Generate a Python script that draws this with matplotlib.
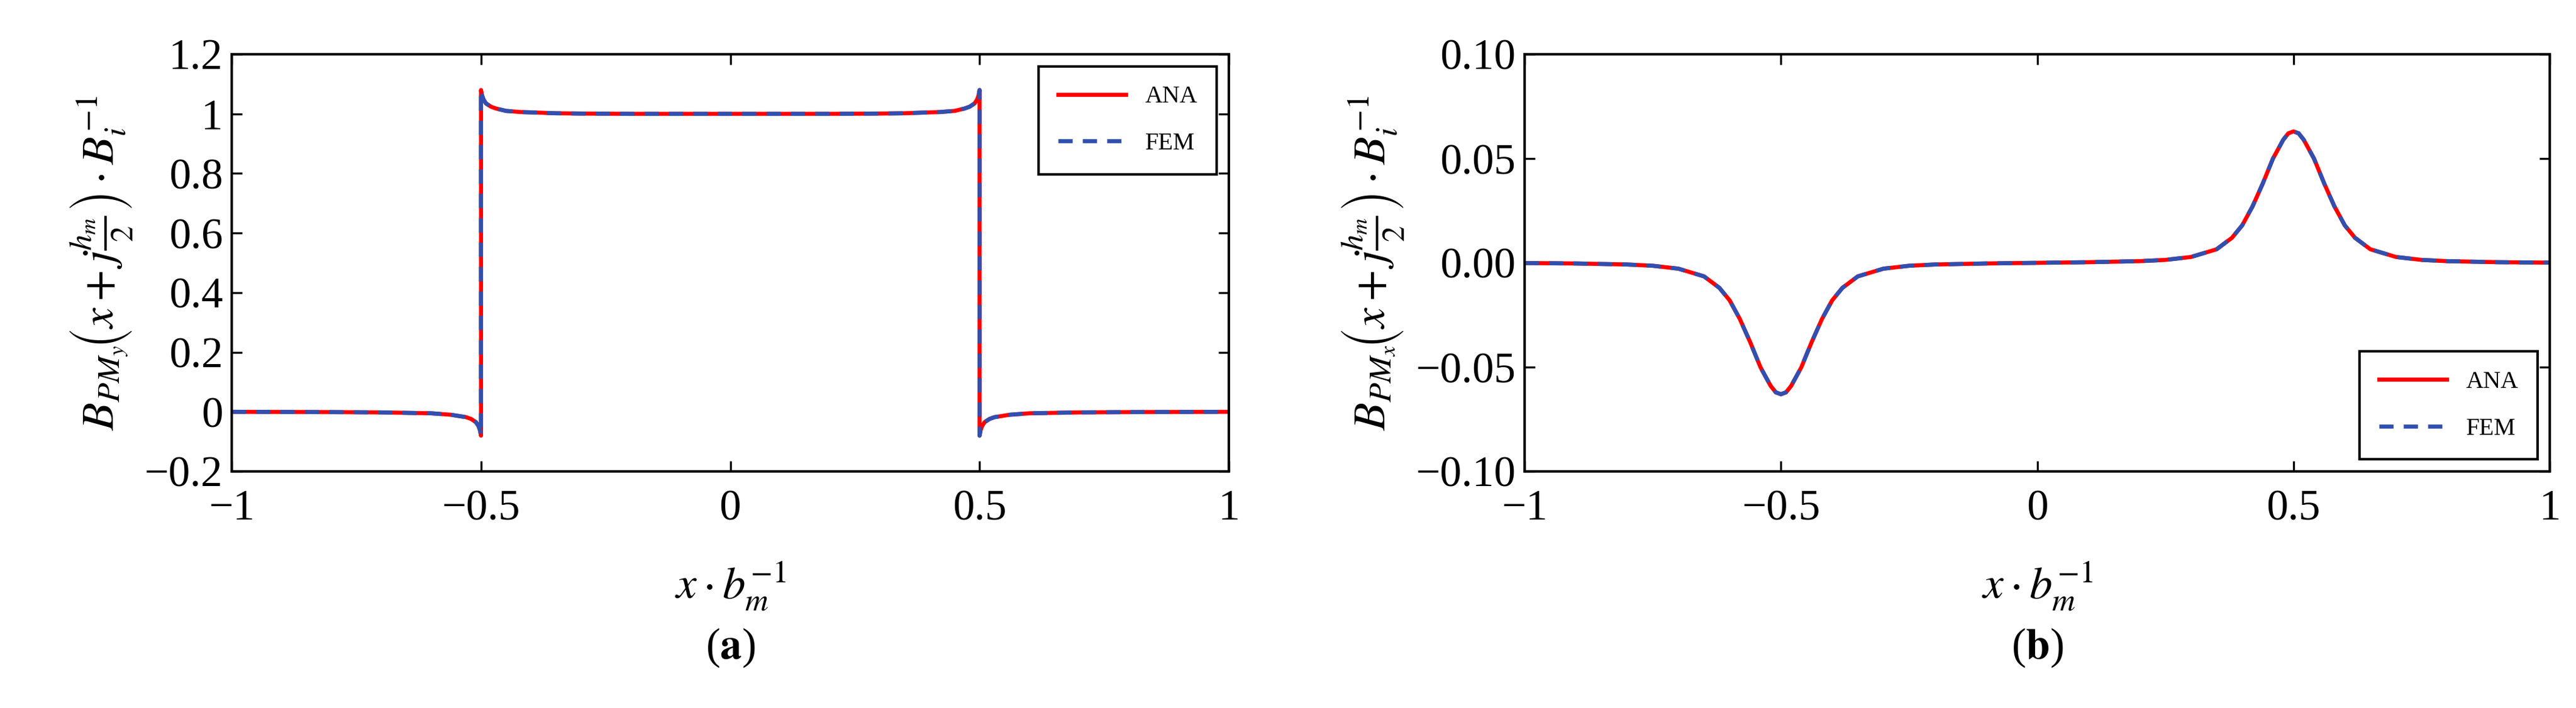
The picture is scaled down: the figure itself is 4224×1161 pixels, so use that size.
import matplotlib
matplotlib.use("Agg")
import matplotlib.pyplot as plt

plt.rcParams['font.family'] = ['Liberation Serif', 'DejaVu Serif']
plt.rcParams['mathtext.fontset'] = 'stix'

# Panel (a): B_PMy
xa = [-1.0, -0.8, -0.7, -0.6, -0.56, -0.53, -0.52, -0.51, -0.505, -0.502, -0.5,
      -0.5, -0.498, -0.495, -0.49, -0.48, -0.47, -0.45, -0.42, -0.4, -0.35, -0.3, -0.2, 0.0,
      0.2, 0.3, 0.35, 0.4, 0.42, 0.45, 0.47, 0.48, 0.49, 0.495, 0.498, 0.5,
      0.5, 0.502, 0.505, 0.51, 0.52, 0.53, 0.56, 0.6, 0.7, 0.8, 1.0]
ya = [0.0, -0.001, -0.002, -0.005, -0.01, -0.018, -0.024, -0.035, -0.048, -0.062, -0.08,
      1.08, 1.062, 1.048, 1.035, 1.024, 1.018, 1.01, 1.006, 1.005, 1.002, 1.001, 1.0, 1.0,
      1.0, 1.001, 1.002, 1.005, 1.006, 1.01, 1.018, 1.024, 1.035, 1.048, 1.062, 1.08,
      -0.08, -0.062, -0.048, -0.035, -0.024, -0.018, -0.01, -0.005, -0.002, -0.001, 0.0]

# Panel (b): B_PMx
xb = [-1.0, -0.9, -0.8, -0.75, -0.7, -0.65, -0.62, -0.6, -0.58, -0.56, -0.54, -0.52, -0.51, -0.5,
      -0.49, -0.48, -0.46, -0.44, -0.42, -0.4, -0.38, -0.35, -0.3, -0.25, -0.2, -0.1, 0.0,
      0.1, 0.2, 0.25, 0.3, 0.35, 0.38, 0.4, 0.42, 0.44, 0.46, 0.48, 0.49, 0.5,
      0.51, 0.52, 0.54, 0.56, 0.58, 0.6, 0.62, 0.65, 0.7, 0.75, 0.8, 0.9, 1.0]
yb = [-0.0001, -0.0003, -0.0008, -0.0014, -0.0028, -0.0065, -0.012, -0.018, -0.027, -0.038, -0.05, -0.059, -0.0621, -0.063,
      -0.0621, -0.059, -0.05, -0.038, -0.027, -0.018, -0.012, -0.0065, -0.0028, -0.0014, -0.0008, -0.0003, 0.0,
      0.0003, 0.0008, 0.0014, 0.0028, 0.0065, 0.012, 0.018, 0.027, 0.038, 0.05, 0.059, 0.0621, 0.063,
      0.0621, 0.059, 0.05, 0.038, 0.027, 0.018, 0.012, 0.0065, 0.0028, 0.0014, 0.0008, 0.0003, 0.0001]

fig = plt.figure(figsize=(14.08, 3.87), dpi=300)
axa = fig.add_axes([380/4224, 1-773/1161, 1635/4224, 684/1161])
axb = fig.add_axes([2500/4224, 1-773/1161, 1681/4224, 684/1161])

for ax, x, y in [(axa, xa, ya), (axb, xb, yb)]:
    ax.plot(x, y, color='#ff0000', lw=1.6, label='ANA')
    ax.plot(x, y, color='#3050b0', lw=1.6, ls=(0, (3.5, 2.5)), label='FEM')
    ax.set_xlim(-1, 1)
    ax.set_xticks([-1, -0.5, 0, 0.5, 1])
    ax.set_xticklabels(['−1', '−0.5', '0', '0.5', '1'])
    ax.tick_params(direction='in', top=True, right=True, labelsize=17, length=4, width=0.8)
    ax.tick_params(axis='x', pad=7)
    for s in ax.spines.values():
        s.set_linewidth(1.0)
    ax.set_xlabel(r'$x\cdot b_m^{-1}$', fontsize=18, labelpad=12)

axa.set_ylim(-0.2, 1.2)
axa.set_yticks([-0.2, 0, 0.2, 0.4, 0.6, 0.8, 1.0, 1.2])
axa.set_yticklabels(['−0.2', '0', '0.2', '0.4', '0.6', '0.8', '1', '1.2'])
axa.set_ylabel(r'$B_{PM_y}\!\left(x+j\frac{h_m}{2}\right)\cdot B_i^{-1}$', fontsize=18)
axa.legend(loc='upper right', fontsize=9.5, frameon=True, fancybox=False, edgecolor='black',
           framealpha=1, handlelength=2.8, borderpad=0.8, labelspacing=1.0)

axb.set_ylim(-0.1, 0.1)
axb.set_yticks([-0.1, -0.05, 0, 0.05, 0.1])
axb.set_yticklabels(['−0.10', '−0.05', '0.00', '0.05', '0.10'])
axb.set_ylabel(r'$B_{PM_x}\!\left(x+j\frac{h_m}{2}\right)\cdot B_i^{-1}$', fontsize=18)
axb.legend(loc='lower right', fontsize=9.5, frameon=True, fancybox=False, edgecolor='black',
           framealpha=1, handlelength=2.8, borderpad=0.8, labelspacing=1.0)

fig.text((380+1635/2)/4224, 0.07, r'($\mathbf{a}$)', ha='center', fontsize=17)
fig.text((2500+1681/2)/4224, 0.07, r'($\mathbf{b}$)', ha='center', fontsize=17)
fig.savefig('out.png', dpi=300)
